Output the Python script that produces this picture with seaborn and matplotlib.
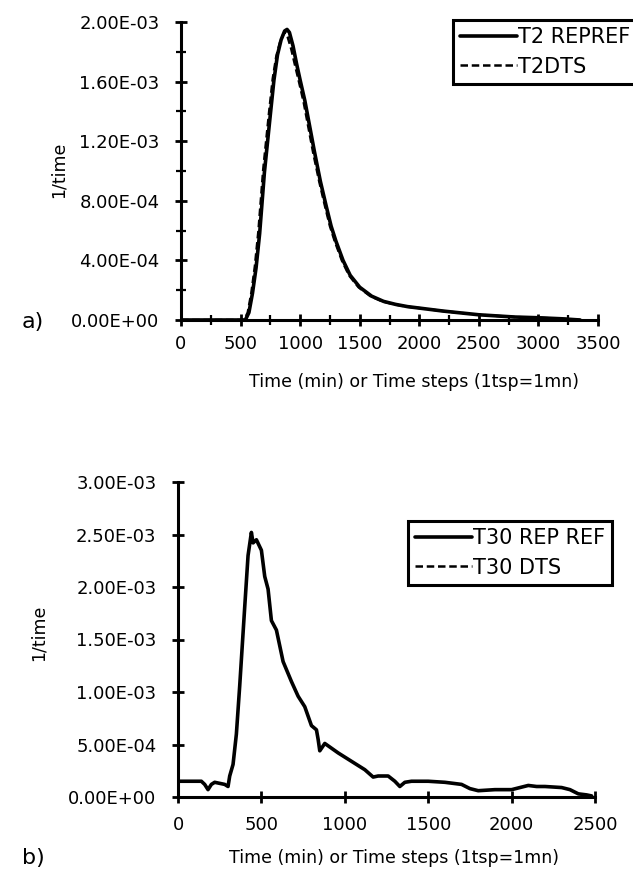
import matplotlib
matplotlib.use("Agg")
import matplotlib.pyplot as plt
import seaborn as sns
import pandas as pd
from matplotlib.ticker import FuncFormatter, MultipleLocator

# ---------- data ----------
# panel a
t_a_ref = [0, 500, 540, 570, 600, 630, 660, 700, 750, 780, 810, 840, 870, 890, 910, 940, 970,
           1000, 1040, 1080, 1120, 1170, 1220, 1260, 1300, 1360, 1420, 1500, 1600, 1700, 1800,
           1900, 2000, 2200, 2500, 2800, 3000, 3200, 3350]
v_a_ref = [0, 0, 0.0, 0.05, 0.18, 0.35, 0.58, 0.99, 1.38, 1.61, 1.78, 1.88, 1.94, 1.95, 1.93, 1.84, 1.72,
           1.61, 1.47, 1.30, 1.13, 0.93, 0.76, 0.63, 0.53, 0.40, 0.30, 0.22, 0.16, 0.125, 0.105,
           0.09, 0.08, 0.06, 0.035, 0.02, 0.015, 0.008, 0.0]
t_a_dts = [0, 500, 530, 560, 590, 620, 650, 690, 740, 770, 800, 830, 860, 875, 895, 925, 960,
           990, 1030, 1070, 1110, 1160, 1210, 1250, 1290, 1350, 1410, 1490, 1590, 1690, 1790,
           1890, 2000, 2200, 2500, 2800, 3000, 3200, 3350]
v_a_dts = [0, 0, 0.0, 0.05, 0.18, 0.36, 0.60, 1.01, 1.40, 1.62, 1.77, 1.86, 1.92, 1.93, 1.90, 1.82, 1.70,
           1.60, 1.46, 1.29, 1.12, 0.93, 0.76, 0.63, 0.53, 0.40, 0.30, 0.22, 0.16, 0.125, 0.105,
           0.09, 0.08, 0.06, 0.035, 0.02, 0.015, 0.008, 0.0]

# panel b
t_b_ref = [0, 50, 100, 140, 160, 180, 200, 220, 250, 280, 300, 310, 330, 350, 370, 400, 420, 440,
           450, 470, 500, 520, 540, 560, 590, 630, 680, 720, 760, 800, 830, 840, 850, 880, 960,
           1040, 1120, 1170, 1200, 1260, 1300, 1330, 1360, 1400, 1500, 1600, 1700, 1750, 1800,
           1900, 2000, 2050, 2100, 2150, 2200, 2300, 2350, 2400, 2450, 2480]
v_b_ref = [0.15, 0.15, 0.15, 0.15, 0.12, 0.07, 0.12, 0.14, 0.13, 0.12, 0.10, 0.20, 0.31, 0.60, 1.06,
           1.81, 2.30, 2.52, 2.42, 2.45, 2.35, 2.10, 1.98, 1.68, 1.59, 1.29, 1.10, 0.96, 0.86, 0.68,
           0.64, 0.55, 0.44, 0.51, 0.42, 0.34, 0.26, 0.19, 0.20, 0.20, 0.15, 0.10, 0.14, 0.15, 0.15,
           0.14, 0.12, 0.08, 0.06, 0.07, 0.07, 0.09, 0.11, 0.10, 0.10, 0.09, 0.07, 0.03, 0.02, 0.01]
t_b_dts = [0, 500, 1000, 1500, 2000, 2500]
v_b_dts = [0, 0, 0, 0, 0, 0]

labels_a = ["T2 REPREF", "T2DTS"]
labels_b = ["T30 REP REF", "T30 DTS"]
xlabel = "Time (min) or Time steps (1tsp=1mn)"
ylabel = "1/time"

# ---------- style ----------
sns.set_style("ticks")
plt.rcParams['font.family'] = ['DejaVu Sans']
plt.rcParams['text.color'] = 'black'
plt.rcParams['axes.labelcolor'] = 'black'
plt.rcParams['xtick.color'] = 'black'
plt.rcParams['ytick.color'] = 'black'
FS = 13

fig = plt.figure(figsize=(6.33, 8.74), dpi=100)
ax_a = fig.add_axes([181 / 633, 1 - 320 / 874, 417 / 633, 298 / 874])
ax_b = fig.add_axes([178 / 633, 1 - 797 / 874, 417 / 633, 315 / 874])

fmt = FuncFormatter(lambda v, p: f"{v:.2E}")


def draw(ax, t1, v1, t2, v2, labels, xmax, xstep, ymax, ystep, yminor, xpad):
    d1 = pd.DataFrame({"t": t1, "v": [x * 1e-3 for x in v1]})
    d2 = pd.DataFrame({"t": t2, "v": [x * 1e-3 for x in v2]})
    sns.lineplot(data=d1, x="t", y="v", ax=ax, color="black", lw=2.6, label=labels[0])
    sns.lineplot(data=d2, x="t", y="v", ax=ax, color="black", lw=1.8, label=labels[1],
                 linestyle=(0, (3, 1.5)))
    ax.set_xlim(0, xmax)
    ax.set_ylim(0, ymax)
    ax.xaxis.set_major_locator(MultipleLocator(xstep))
    ax.yaxis.set_major_locator(MultipleLocator(ystep))
    ax.yaxis.set_minor_locator(MultipleLocator(yminor))
    ax.yaxis.set_major_formatter(fmt)
    for s in ("top", "right"):
        ax.spines[s].set_visible(False)
    for s in ("left", "bottom"):
        ax.spines[s].set_linewidth(2.2)
        ax.spines[s].set_color("black")
    ax.tick_params(axis="both", which="major", direction="inout", length=9, width=2.0,
                   labelsize=FS, colors="black")
    ax.tick_params(axis="y", which="major", pad=11)
    ax.tick_params(axis="x", which="major", pad=xpad)
    ax.tick_params(axis="both", which="minor", direction="inout", length=7, width=1.6,
                   colors="black")
    ax.set_xlabel(xlabel, fontsize=FS - 0.5, color="black")
    ax.set_ylabel(ylabel, fontsize=FS - 0.5, color="black")


draw(ax_a, t_a_ref, v_a_ref, t_a_dts, v_a_dts, labels_a, 3500, 500, 2.0e-3, 4e-4, 2e-4, 6)
ax_a.xaxis.set_minor_locator(MultipleLocator(250))
draw(ax_b, t_b_ref, v_b_ref, t_b_dts, v_b_dts, labels_b, 2500, 500, 3.0e-3, 5e-4, 5e-4, 9)

ax_a.yaxis.set_label_coords((68 - 181) / 417, (320 - 170) / 298)
ax_b.yaxis.set_label_coords((48 - 178) / 417, (797 - 633) / 315)
ax_a.xaxis.set_label_coords((414 - 181) / 417, (320 - 373) / 298)
ax_b.xaxis.set_label_coords((394 - 178) / 417, (797 - 849) / 315)

for ax, loc in ((ax_a, ((453 - 181) / 417, (320 - 20) / 298)),
                (ax_b, ((408 - 178) / 417, (797 - 521) / 315))):
    leg = ax.legend(loc="upper left", bbox_to_anchor=loc, borderaxespad=0, frameon=True,
                    fontsize=15, handlelength=2.7, handletextpad=0.05, borderpad=0.35,
                    labelspacing=0.45, fancybox=False, framealpha=1)
    leg.get_frame().set_edgecolor("black")
    leg.get_frame().set_linewidth(2.2)
    for txt in leg.get_texts():
        txt.set_color("black")

fig.text(22 / 633, 1 - 322 / 874, "a)", fontsize=16, va="center", color="black")
fig.text(22 / 633, 1 - 858 / 874, "b)", fontsize=16, va="center", color="black")

fig.savefig("out.png", dpi=100)
